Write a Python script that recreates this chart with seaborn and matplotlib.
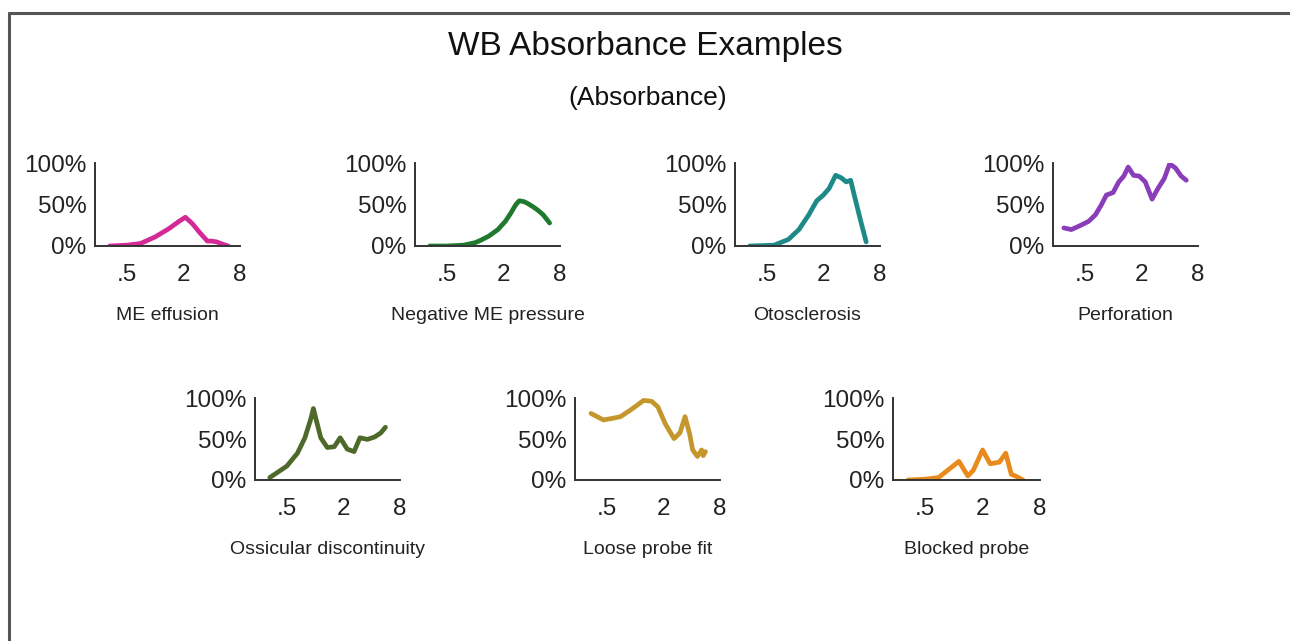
import seaborn as sns
import matplotlib
matplotlib.use('Agg')
import matplotlib.pyplot as plt
from matplotlib import font_manager
from matplotlib.lines import Line2D
from matplotlib.ticker import FixedLocator, FixedFormatter
import numpy as np
import pandas as pd

sns.set_style('white')
names = {f.name for f in font_manager.fontManager.ttflist}
fam = 'Liberation Sans Narrow' if 'Liberation Sans Narrow' in names else 'Liberation Sans'
plt.rcParams['font.family'] = [fam, 'DejaVu Sans']

# absorbance (%) vs frequency (kHz)
me_f = [0.33, 0.5, 0.7, 1.0, 1.4, 1.8, 2.1, 2.5, 3.0, 3.6, 4.0, 4.5, 5.3, 6.0]
me_a = [0, 1, 3, 11, 21, 30, 35, 27, 16, 6, 6, 5, 2, 0]

neg_f = [0.33, 0.5, 0.75, 1.0, 1.15, 1.4, 1.75, 2.1, 2.4, 2.7, 2.95, 3.3, 3.6, 4.1, 4.6, 5.3, 6.2]
neg_a = [0, 0, 1, 4, 7, 12, 20, 30, 40, 50, 55, 54, 52, 48, 44, 38, 28]

oto_f = [0.33, 0.6, 0.85, 1.1, 1.4, 1.7, 2.0, 2.3, 2.7, 3.1, 3.5, 3.9, 4.3, 5.0, 5.7]
oto_a = [0, 1, 8, 20, 38, 55, 62, 70, 86, 83, 78, 80, 60, 30, 5]

perf_f = [0.3, 0.36, 0.45, 0.55, 0.65, 0.75, 0.85, 1.0, 1.15, 1.3, 1.45, 1.65, 1.9, 2.2,
          2.6, 3.0, 3.5, 4.0, 4.6, 5.3, 6.0]
perf_a = [22, 20, 25, 30, 38, 50, 62, 65, 78, 85, 96, 86, 85, 78, 57, 70, 82, 100, 95, 85, 80]

oss_f = [0.33, 0.5, 0.65, 0.78, 0.9, 0.96, 1.05, 1.15, 1.35, 1.6, 1.85, 2.2, 2.6, 3.0, 3.6,
         4.3, 5.0, 5.6]
oss_a = [3, 17, 33, 52, 75, 88, 70, 52, 40, 41, 52, 38, 35, 52, 50, 53, 58, 65]

loose_f = [0.34, 0.46, 0.58, 0.7, 0.89, 1.05, 1.23, 1.5, 1.75, 2.1, 2.6, 3.0, 3.4, 3.8,
           4.1, 4.6, 5.1, 5.3, 5.6]
loose_a = [82, 74, 76, 78, 86, 92, 98, 97, 90, 69, 51, 58, 78, 57, 37, 29, 37, 30, 35]

block_f = [0.33, 0.5, 0.69, 0.82, 1.0, 1.13, 1.4, 1.6, 2.0, 2.4, 3.0, 3.5, 4.0, 4.6, 5.3]
block_a = [0, 1, 3, 10, 18, 23, 5, 12, 37, 20, 22, 33, 7, 4, 0]

panels = [
    ('ME effusion', me_f, me_a, '#d42a97', (95, 163, 240, 246)),
    ('Negative ME pressure', neg_f, neg_a, '#1f7a30', (415, 163, 560, 246)),
    ('Otosclerosis', oto_f, oto_a, '#1d8a88', (735, 163, 880, 246)),
    ('Perforation', perf_f, perf_a, '#8a3db8', (1053, 163, 1198, 246)),
    ('Ossicular discontinuity', oss_f, oss_a, '#4e6a2a', (255, 398, 400, 480)),
    ('Loose probe fit', loose_f, loose_a, '#c4962c', (575, 398, 720, 480)),
    ('Blocked probe', block_f, block_a, '#e98a1c', (893, 398, 1040, 480)),
]

W, H = 1290, 641
fig = plt.figure(figsize=(W / 100, H / 100), dpi=100)
fig.patch.set_facecolor('white')

for name, f, a, col, (x0, y0, x1, y1) in panels:
    ax = fig.add_axes([x0 / W, 1 - y1 / H, (x1 - x0) / W, (y1 - y0) / H])
    df = pd.DataFrame({'freq': f, 'absorb': a})
    sns.lineplot(data=df, x='freq', y='absorb', color=col, linewidth=3.4, ax=ax)
    ax.set_xscale('log', base=2)
    ax.set_xlim(0.23, 8)
    ax.set_ylim(0, 101)
    ax.xaxis.set_major_locator(FixedLocator([0.5, 2, 8]))
    ax.xaxis.set_major_formatter(FixedFormatter(['.5', '2', '8']))
    ax.xaxis.set_minor_locator(FixedLocator([]))
    ax.set_yticks([0, 50, 100])
    ax.set_yticklabels(['0%', '50%', '100%'])
    ax.tick_params(axis='both', length=0, labelsize=17.5, colors='#222222')
    ax.tick_params(axis='x', pad=13)
    ax.tick_params(axis='y', pad=6)
    for s in ['top', 'right']:
        ax.spines[s].set_visible(False)
    for s in ['left', 'bottom']:
        ax.spines[s].set_color('#333333')
        ax.spines[s].set_linewidth(1.4)
    ax.set_xlabel(name, fontsize=14, color='#222222', labelpad=15)
    ax.set_ylabel('')
    ax.set_facecolor('white')

fig.text(645 / W, 1 - 46 / H, 'WB Absorbance Examples', ha='center', va='center',
         fontsize=24, color='#111111')
fig.text(648 / W, 1 - 98 / H, '(Absorbance)', ha='center', va='center',
         fontsize=19, color='#111111')

# outer frame
fig.add_artist(Line2D([9 / W, 1], [1 - 13 / H, 1 - 13 / H], color='#555555', lw=2.2))
fig.add_artist(Line2D([9 / W, 9 / W], [0, 1 - 13 / H], color='#555555', lw=2.2))

fig.savefig('out.png', dpi=100)
